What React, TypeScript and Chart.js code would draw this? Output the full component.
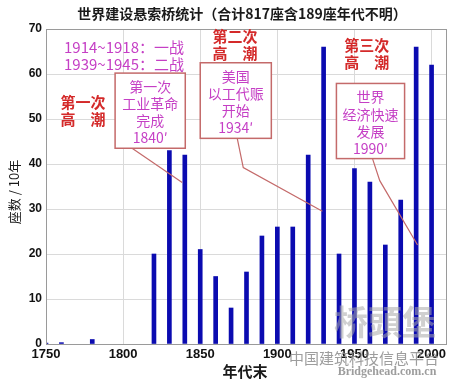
import { useEffect, useRef } from "react";
import { Chart, registerables } from "chart.js";

Chart.register(...registerables);

// ---- data ----
const decades = [1750, 1760, 1780, 1820, 1830, 1840, 1850, 1860, 1870, 1880, 1890, 1900, 1910, 1920, 1930, 1940, 1950, 1960, 1970, 1980, 1990, 2000];
const counts = [0.2, 0.3, 1, 20, 43, 42, 21, 15, 8, 16, 24, 26, 26, 42, 66, 20, 39, 36, 22, 32, 66, 62];
const xTicks = [1750, 1800, 1850, 1900, 1950, 2000];
const yTicks = [0, 10, 20, 30, 40, 50, 60, 70];

const titleText = "世界建设悬索桥统计（合计817座含189座年代不明）";
const yTitle = "座数 / 10年";
const xTitle = "年代末";

const warLines = ["1914~1918：一战", "1939~1945：二战"];
const waveLabels = [
  { lines: ["第一次", "高　潮"], x: 1774, y: 53.7 },
  { lines: ["第二次", "高　潮"], x: 1872.5, y: 68.3 },
  { lines: ["第三次", "高　潮"], x: 1958, y: 66.4 },
];
const boxes = [
  { lines: ["第一次", "工业革命", "完成", "1840′"], x0: 1794.8, x1: 1840.3, y0: 43.5, y1: 60.2, leader: [[1805.8, 43.5], [1838.3, 35.9]] },
  { lines: ["美国", "以工代赈", "开始", "1934′"], x0: 1850, x1: 1896.1, y0: 45.7, y1: 62.5, leader: [[1874, 45.7], [1877.9, 39.2], [1929.2, 29.5]] },
  { lines: ["世界", "经济快速", "发展", "1990′"], x0: 1938.3, x1: 1982.5, y0: 41.2, y1: 57.9, leader: [[1961.7, 41.2], [1966.4, 36.3], [1990.9, 22]] },
];

const CJK = "'Noto Sans CJK SC', 'Noto Sans', sans-serif";

const overlay = {
  id: "overlay",
  afterDraw(chart: any) {
    const { ctx, chartArea: ca } = chart;
    const xs = chart.scales.x;
    const ys = chart.scales.y;
    const px = (v: number) => xs.getPixelForValue(v);
    const py = (v: number) => ys.getPixelForValue(v);
    ctx.save();
    // frame
    ctx.strokeStyle = "#9a9a9a";
    ctx.lineWidth = 1;
    ctx.strokeRect(ca.left + 0.5, ca.top + 0.5, ca.right - ca.left - 1, ca.bottom - ca.top);

    // title
    ctx.fillStyle = "#1a1a1a";
    ctx.textAlign = "center";
    ctx.textBaseline = "middle";
    ctx.font = `bold 14px ${CJK}`;
    ctx.fillText(titleText, 242, 14);

    // axis titles
    ctx.font = `13px ${CJK}`;
    ctx.save();
    ctx.translate(14, 192);
    ctx.rotate(-Math.PI / 2);
    ctx.fillText(yTitle, 0, 0);
    ctx.restore();
    ctx.font = `bold 15px ${CJK}`;
    ctx.fillText(xTitle, 245, 371);

    // war lines
    ctx.fillStyle = "#c53fc5";
    ctx.font = `15px ${CJK}`;
    ctx.fillText(warLines[0], 124, 47);
    ctx.fillText(warLines[1], 124, 64);

    // wave labels
    ctx.fillStyle = "#d42a2a";
    ctx.font = `bold 15px ${CJK}`;
    waveLabels.forEach((w) => {
      w.lines.forEach((l, i) => ctx.fillText(l, px(w.x), py(w.y) + i * 17));
    });

    // boxes with leaders
    boxes.forEach((b) => {
      ctx.strokeStyle = "#c46a6a";
      ctx.lineWidth = 1.2;
      ctx.beginPath();
      b.leader.forEach((p, i) => {
        if (i === 0) ctx.moveTo(px(p[0]), py(p[1]));
        else ctx.lineTo(px(p[0]), py(p[1]));
      });
      ctx.stroke();
      const l = px(b.x0), r = px(b.x1), t = py(b.y1), bt = py(b.y0);
      ctx.fillStyle = "#ffffff";
      ctx.fillRect(l, t, r - l, bt - t);
      ctx.lineWidth = 1.5;
      ctx.strokeRect(l, t, r - l, bt - t);
      ctx.fillStyle = "#c53fc5";
      ctx.font = `14px ${CJK}`;
      const cx = (l + r) / 2;
      const step = (bt - t) / 4.4;
      b.lines.forEach((s, i) => ctx.fillText(s, cx, t + step * (0.8 + i)));
    });

    // watermark
    ctx.fillStyle = "rgba(170,170,170,0.55)";
    ctx.font = `bold 34px ${CJK}`;
    ctx.fillText("桥頭堡", 385, 322);
    ctx.fillStyle = "rgba(140,140,140,0.85)";
    ctx.font = `15px ${CJK}`;
    ctx.fillText("中国建筑科技信息平台", 364, 358);
    ctx.font = "bold 12px 'Liberation Serif', serif";
    ctx.fillText("Bridgehead.com.cn", 387, 372);
    ctx.restore();
  },
};

export default function App() {
  const ref = useRef<HTMLCanvasElement>(null);
  useEffect(() => {
    if (!ref.current) return;
    const chart = new Chart(ref.current, {
      type: "bar",
      data: {
        datasets: [
          {
            data: decades.map((d, i) => ({ x: d, y: counts[i] })),
            backgroundColor: "#0b0bb0",
            barThickness: 4,
            grouped: false,
          } as any,
        ],
      },
      options: {
        responsive: false,
        animation: false,
        layout: { padding: { top: 29, right: 6, left: 0, bottom: 0 } },
        plugins: { legend: { display: false }, tooltip: { enabled: false }, title: { display: false } },
        scales: {
          x: {
            type: "linear",
            offset: false,
            min: 1750,
            max: 2010,
            afterBuildTicks: (s: any) => {
              s.ticks = xTicks.map((v) => ({ value: v }));
            },
            afterFit: (s: any) => {
              s.height = 37;
            },
            grid: { color: "#dadada", drawTicks: false, offset: false },
            border: { display: false },
            ticks: {
              padding: 3,
              color: "#111",
              autoSkip: false,
              maxRotation: 0,
              font: { family: "'Liberation Sans Narrow', 'Liberation Sans', Arial", size: 13, weight: "bold" },
              callback: (v: any) => String(v),
            },
          },
          y: {
            min: 0,
            max: 70,
            afterBuildTicks: (s: any) => {
              s.ticks = yTicks.map((v) => ({ value: v }));
            },
            afterFit: (s: any) => {
              s.width = 46;
            },
            grid: { color: "#dadada", drawTicks: false },
            border: { display: false },
            ticks: {
              padding: 4,
              color: "#111",
              font: { family: "'Liberation Sans', Arial", size: 12, weight: "bold" },
            },
          },
        },
      } as any,
      plugins: [overlay],
    });
    return () => chart.destroy();
  }, []);
  return (
    <div style={{ position: "absolute", left: 0, top: 0, width: 453, height: 381, background: "#fff" }}>
      <canvas ref={ref} width={453} height={381} />
    </div>
  );
}
